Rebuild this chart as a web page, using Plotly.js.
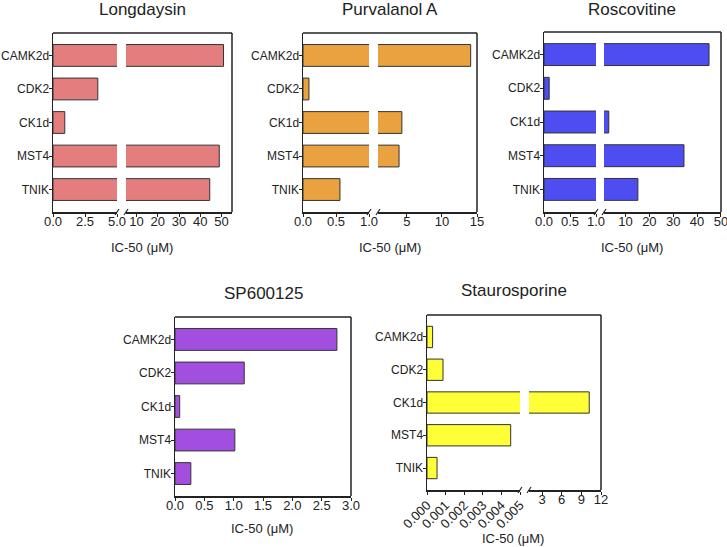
<!DOCTYPE html>
<html>
<head>
<meta charset="utf-8">
<script src="https://cdn.plot.ly/plotly-3.0.1.min.js"></script>
<style>html,body{margin:0;padding:0;background:#fff;}#chart{width:727px;height:547px;}</style>
</head>
<body>
<div id="chart"></div>
<script>
// ---- data ----
const kinases = ['CAMK2d', 'CDK2', 'CK1d', 'MST4', 'TNIK'];
const longdaysin = [51, 3.5, 0.92, 49, 44.5];
const purvalanolA = [14.1, 0.09, 4.3, 3.9, 0.56];
const roscovitine = [45, 0.1, 3, 34.5, 15.2];
const sp600125 = [2.76, 1.18, 0.08, 1.02, 0.27];
const staurosporine = [0.0003, 0.00086, 10.2, 0.0045, 0.00054];

const longLeftTicks = [0, 2.5, 5];
const longLeftText = ['0.0', '2.5', '5.0'];
const longRightTicks = [10, 20, 30, 40, 50];
const purvLeftTicks = [0, 0.5, 1];
const purvLeftText = ['0.0', '0.5', '1.0'];
const purvRightTicks = [5, 10, 15];
const roscLeftTicks = [0, 0.5, 1];
const roscLeftText = ['0.0', '0.5', '1.0'];
const roscRightTicks = [10, 20, 30, 40, 50];
const spTicks = [0, 0.5, 1, 1.5, 2, 2.5, 3];
const spText = ['0.0', '0.5', '1.0', '1.5', '2.0', '2.5', '3.0'];
const stauLeftTicks = [0, 0.001, 0.002, 0.003, 0.004, 0.005];
const stauLeftText = ['0.000', '0.001', '0.002', '0.003', '0.004', '0.005'];
const stauRightTicks = [3, 6, 9, 12];

// ---- layout helpers ----
const W = 727, H = 547;
const fx = p => p / W;
const fy = p => 1 - p / H;
const FONT = 'Liberation Sans, Arial, sans-serif';
const INK = '#222';

const panels = [
  {title: 'Longdaysin', data: longdaysin, color: '#E47D7D', y: [33, 212],
   segs: [{px: [53, 117], range: [0, 5], tv: longLeftTicks, tt: longLeftText},
          {px: [126, 232], range: [5, 55], tv: longRightTicks, tt: longRightTicks.map(String)}],
   tx: 142, ty: 10, ax: 142, ay: 247},
  {title: 'Purvalanol A', data: purvalanolA, color: '#E9A23F', y: [33, 212],
   segs: [{px: [303, 369], range: [0, 1], tv: purvLeftTicks, tt: purvLeftText},
          {px: [378, 477], range: [0.9, 15], tv: purvRightTicks, tt: purvRightTicks.map(String)}],
   tx: 390, ty: 10, ax: 390, ay: 247},
  {title: 'Roscovitine', data: roscovitine, color: '#4D4DF2', y: [32, 212],
   segs: [{px: [544, 596], range: [0, 1], tv: roscLeftTicks, tt: roscLeftText},
          {px: [604, 721], range: [1, 50.01], tv: roscRightTicks, tt: roscRightTicks.map(String)}],
   tx: 632, ty: 9, ax: 632, ay: 247},
  {title: 'SP600125', data: sp600125, color: '#A24FE0', y: [317, 496],
   segs: [{px: [175, 351], range: [0, 3], tv: spTicks, tt: spText}],
   tx: 263, ty: 293, ax: 262, ay: 528},
  {title: 'Staurosporine', data: staurosporine, color: '#FFFF38', y: [315, 490],
   segs: [{px: [427, 520], range: [0, 0.005], tv: stauLeftTicks, tt: stauLeftText, angle: -45, sz: 13, so: -2},
          {px: [529, 601], range: [1, 12], tv: stauRightTicks, tt: stauRightTicks.map(String)}],
   tx: 514, ty: 291, ax: 513, ay: 538}
];

const traces = [];
const layout = {
  width: W, height: H,
  margin: {l: 0, r: 0, t: 0, b: 0},
  paper_bgcolor: '#fff', plot_bgcolor: 'rgba(0,0,0,0)',
  showlegend: false,
  font: {family: FONT, color: INK, size: 12},
  shapes: [], annotations: []
};

let xi = 0;
panels.forEach((p, pi) => {
  const yName = 'y' + (pi === 0 ? '' : pi + 1);
  const yKey = 'yaxis' + (pi === 0 ? '' : pi + 1);
  let firstX = null;
  p.segs.forEach((s, si) => {
    xi += 1;
    const xName = 'x' + (xi === 1 ? '' : xi);
    const xKey = 'xaxis' + (xi === 1 ? '' : xi);
    if (si === 0) firstX = xName;
    traces.push({
      type: 'bar', orientation: 'h',
      x: p.data, y: kinases,
      xaxis: xName, yaxis: yName,
      width: 0.65,
      marker: {color: p.color, line: {color: '#333', width: 1}},
      hoverinfo: 'x+y'
    });
    layout[xKey] = {
      domain: [fx(s.px[0]), fx(s.px[1])],
      anchor: yName,
      range: s.range,
      tickmode: 'array', tickvals: s.tv, ticktext: s.tt,
      ticks: 'outside', ticklen: 3, tickwidth: 1, tickcolor: INK,
      ticklabelstandoff: s.so !== undefined ? s.so : -6,
      ticklabeloverflow: 'allow',
      showline: true, linecolor: INK, linewidth: 1.5,
      showgrid: false, zeroline: false, fixedrange: true,
      tickangle: s.angle !== undefined ? s.angle : 0,
      tickfont: {family: FONT, size: s.sz || 13, color: INK}
    };
  });
  layout[yKey] = {
    domain: [fy(p.y[1]), fy(p.y[0])],
    anchor: firstX,
    type: 'category',
    categoryorder: 'array', categoryarray: kinases,
    range: [4.67, -0.67],
    ticks: 'outside', ticklen: 3, tickwidth: 1, tickcolor: INK,
    ticklabelstandoff: -3,
    showline: true, linecolor: INK, linewidth: 1.5,
    showgrid: false, zeroline: false, fixedrange: true,
    tickfont: {family: FONT, size: 12, color: INK}
  };
  // frame: top and right border
  const L = p.segs[0].px[0], R = p.segs[p.segs.length - 1].px[1];
  layout.shapes.push({type: 'line', xref: 'paper', yref: 'paper',
    x0: fx(L), x1: fx(R), y0: fy(p.y[0]), y1: fy(p.y[0]), line: {color: INK, width: 1.5}});
  layout.shapes.push({type: 'line', xref: 'paper', yref: 'paper',
    x0: fx(R), x1: fx(R), y0: fy(p.y[0]), y1: fy(p.y[1]), line: {color: INK, width: 1.5}});
  // break marks
  if (p.segs.length > 1) {
    [p.segs[0].px[1], p.segs[1].px[0]].forEach(bx => {
      layout.shapes.push({type: 'line', xref: 'paper', yref: 'paper',
        x0: fx(bx - 2), x1: fx(bx + 2), y0: fy(p.y[1] + 3), y1: fy(p.y[1] - 3),
        line: {color: INK, width: 1.2}});
    });
  }
  // titles
  layout.annotations.push({text: p.title, xref: 'paper', yref: 'paper',
    x: fx(p.tx), y: fy(p.ty), xanchor: 'center', yanchor: 'middle', showarrow: false,
    font: {family: FONT, size: 17, color: INK}});
  layout.annotations.push({text: 'IC-50 (μM)', xref: 'paper', yref: 'paper',
    x: fx(p.ax), y: fy(p.ay), xanchor: 'center', yanchor: 'middle', showarrow: false,
    font: {family: FONT, size: 13, color: INK}});
});

Plotly.newPlot('chart', traces, layout, {displayModeBar: false, staticPlot: true});
</script>
</body>
</html>
